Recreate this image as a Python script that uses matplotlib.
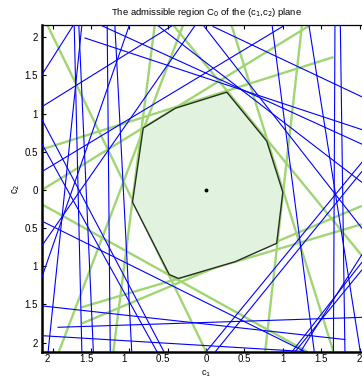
import matplotlib
matplotlib.use('Agg')
import matplotlib.pyplot as plt

plt.rcParams['font.family'] = ['Liberation Sans', 'DejaVu Sans']

# admissible region C0 (polygon vertices)
poly_c1 = [0.27, -0.40, -0.82, -0.96, -0.48, -0.36, 0.38, 0.92, 1.00, 0.79]
poly_c2 = [1.28, 1.07, 0.81, -0.16, -1.11, -1.16, -0.94, -0.70, -0.03, 0.64]

# constraint lines touching the region (green)
g_x0 = [-2.07, -0.67, -0.30, 1.66, 1.36, -2.14, -1.63, -1.62, 1.25, 0.33, -0.43]
g_y0 = [2.16, 2.16, 2.16, 1.74, 2.16, -0.19, -1.54, -1.75, 2.16, 2.16, 2.16]
g_x1 = [0.00, -1.21, -1.92, -2.14, -2.14, 1.32, 2.03, 2.03, 0.77, 1.66, 2.03]
g_y1 = [-2.12, -2.12, -2.12, 0.53, 0.00, -2.12, -0.45, -0.21, -2.12, -2.12, -0.86]

# remaining constraint lines (blue)
b_x0 = [-1.73, -2.14, -1.58, -1.72, -1.66, -1.62, -1.29, -1.19, -2.14, -2.14,
        -2.14, -2.14, -2.14, -2.14, -2.14, -1.93, -2.14, 0.00, 0.12, -0.04,
        0.09, 0.86, 1.34, 1.68, 1.75, 1.12, 1.16, 1.23, -1.38, -0.64]
b_y0 = [2.16, 1.09, 1.99, 2.16, 2.16, 2.16, 2.16, 2.16, 0.92, 0.60,
        -0.41, -0.73, -1.14, -1.52, -1.91, -1.80, 0.24, -2.12, -2.12, 2.16,
        2.14, 2.16, 2.16, 2.16, 2.16, -2.12, -2.12, -2.12, 2.16, 2.16]
b_x1 = [-2.14, -0.43, 2.03, -1.62, -1.47, -2.06, -1.25, -0.97, -0.55, -0.64,
        1.29, -0.14, -1.00, 1.81, 1.32, 2.03, 1.03, 2.03, 2.03, 2.03,
        2.03, 1.41, 2.01, 1.66, 1.81, 2.03, 2.03, 2.03, 2.03, 2.03]
b_y1 = [1.51, 2.16, 0.79, -2.12, -2.12, -2.12, -2.12, -2.12, -2.12, -2.12,
        -2.12, 2.16, 2.16, -1.96, -2.12, -1.67, 2.16, 0.36, 0.24, -0.50,
        1.22, -2.12, -2.12, -2.12, -2.12, -0.95, -1.05, -0.85, 0.60, 0.10]

ticks = [-2, -1.5, -1, -0.5, 0, 0.5, 1, 1.5, 2]
tick_text = ['2', '1.5', '1', '0.5', '0', '0.5', '1', '1.5', '2']

fig = plt.figure(figsize=(3.62, 3.79), dpi=100)
ax = fig.add_axes([0.116, 0.072, 0.911, 0.862])

for i in range(len(g_x0)):
    ax.plot([g_x0[i], g_x1[i]], [g_y0[i], g_y1[i]], color='#9fd672', lw=1.7,
            solid_capstyle='butt', zorder=2)
for i in range(len(b_x0)):
    ax.plot([b_x0[i], b_x1[i]], [b_y0[i], b_y1[i]], color='#0000ff', lw=0.8,
            zorder=3)

ax.fill(poly_c1, poly_c2, facecolor='#e1f2de', edgecolor='#243024', lw=1.0,
        zorder=4)
ax.plot([0], [0], 'o', color='k', ms=1.8, zorder=5)

ax.set_xlim(-2.14, 2.16)
ax.set_ylim(-2.12, 2.16)
ax.set_xticks(ticks)
# negative labels sit left of their tick (blank trailing space)
ax.set_xticklabels([t + '\u2003' if v < 0 else t for v, t in zip(ticks, tick_text)])
ax.set_yticks(ticks)
ax.set_yticklabels(tick_text)
ax.tick_params(direction='in', length=3, width=0.8, labelsize=7,
               top=True, right=True, pad=3)
ax.tick_params(axis='x', pad=2)
for side in ['left', 'bottom']:
    ax.spines[side].set_linewidth(1.8)
for side in ['top', 'right']:
    ax.spines[side].set_linewidth(0.9)

ax.set_title('The admissible region C$_0$ of the (c$_1$,c$_2$) plane',
             fontsize=6.8, pad=7)
ax.set_xlabel('c$_1$', fontsize=6.5, labelpad=0)
ax.xaxis.label.set_va('bottom')
ax.xaxis.set_label_coords(0.497, -0.083)
ax.set_ylabel('c$_2$', fontsize=7, labelpad=2)

fig.savefig('out.png', dpi=100)
